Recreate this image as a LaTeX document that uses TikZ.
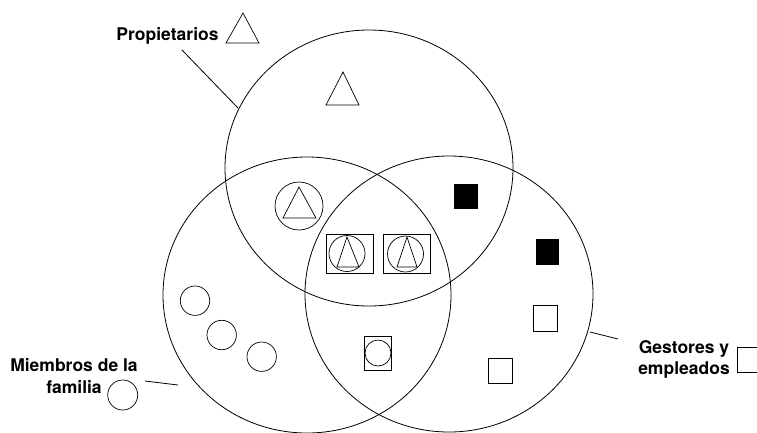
\documentclass[tikz,border=0pt]{standalone}
\usepackage{fontspec}
\setmainfont{TeX Gyre Heros}
\usetikzlibrary{shapes.geometric}
\begin{document}
\begin{tikzpicture}[x=1pt,y=-1pt,
  setring/.style={draw, ellipse, line width=0.8pt, inner sep=0pt, minimum width=288pt, minimum height=276pt},
  lbl/.style={font=\fontsize{17.5}{21.5}\selectfont\bfseries, inner sep=0pt, align=center},
  thin/.style={line width=0.7pt},
  lead/.style={line width=0.8pt}]
\useasboundingbox (0,0) rectangle (757,432);
% sets
\node[setring] (P) at (369,168) {};
\node[setring] (F) at (307,295) {};
\node[setring] (G) at (449,294) {};
% labels
\node[lbl, anchor=base] (pl) at (167.5,40) {Propietarios};
\node[lbl] (fl) at (74,376) {Miembros de la\\familia};
\node[lbl] (gl) at (684,359.5) {Gestores y\\empleados};
% leader lines
\coordinate (pa) at (182,50);
\coordinate (pb) at (238,108);
\draw[lead] (pa) -- (pb);
\coordinate (fa) at (145,381);
\coordinate (fb) at (178,385);
\draw[lead] (fa) -- (fb);
\coordinate (ga) at (590,332);
\coordinate (gb) at (618,339);
\draw[lead] (ga) -- (gb);
% legend symbols
\draw[thin] (243,13) -- (259,43) -- (226,43) -- cycle;
\draw[thin] (122.7,395) circle (15);
\draw[thin] (737,347) rectangle (762,372);
% owners only
\draw[thin] (343,72) -- (359,105) -- (326,105) -- cycle;
% family+owners
\draw[thin] (299,206) circle (24);
\draw[thin] (299,187) -- (316,218) -- (283,218) -- cycle;
% all three
\draw[thin] (326,234) rectangle (373,273);
\draw[thin] (347,253.5) circle (18);
\draw[thin] (347,237) -- (359,267) -- (337,267) -- cycle;
\draw[thin] (383,234) rectangle (430,273);
\draw[thin] (405.5,254) circle (18);
\draw[thin] (407,237) -- (417,267) -- (397,267) -- cycle;
% owners+managers
\fill (454,184) rectangle (478,209);
% managers
\fill (536,239) rectangle (559,265);
\draw[thin] (533,305) rectangle (557,331);
\draw[thin] (488,358) rectangle (512,383);
% family+managers
\draw[thin] (364.5,336) rectangle (391.5,370);
\draw[thin] (378,353) circle (13);
% family
\draw[thin] (195,300.7) circle (14.7);
\draw[thin] (221.7,335) circle (14.7);
\draw[thin] (261.7,356.7) circle (14.7);
\end{tikzpicture}
\end{document}
